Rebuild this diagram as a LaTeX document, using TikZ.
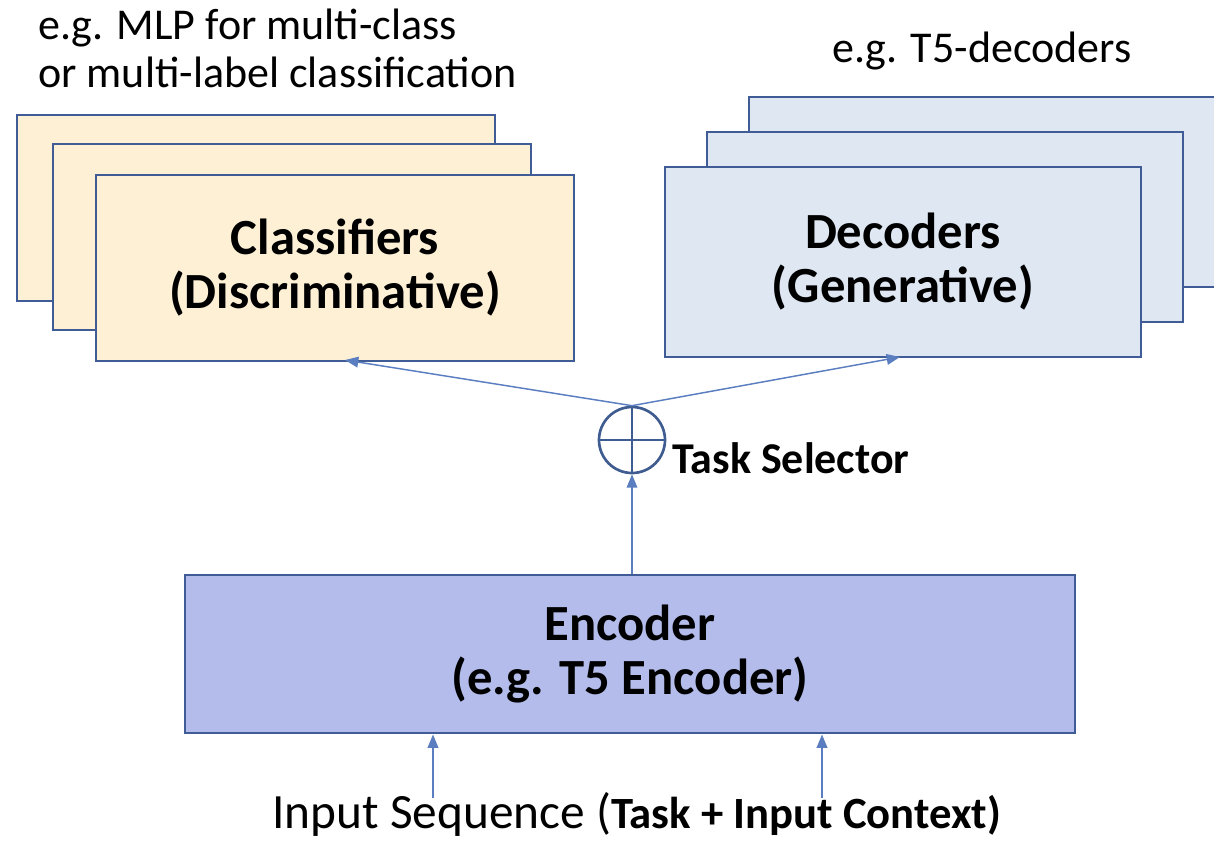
\documentclass[tikz,border=0pt]{standalone}
\usepackage{fontspec}
\setmainfont{Carlito}
\usetikzlibrary{arrows.meta}
\definecolor{bordc}{HTML}{405C96}
\definecolor{arrc}{HTML}{5A7EC0}
\definecolor{clsfill}{HTML}{FDF0D5}
\definecolor{decfill}{HTML}{DEE7F2}
\definecolor{encfill}{HTML}{B3BCEA}
\definecolor{circc}{HTML}{3E5C8F}
\tikzset{
  card/.style={draw=bordc, line width=2.2pt, rectangle, inner sep=0pt, align=center,
    font=\fontsize{38}{40.5}\selectfont\bfseries},
  clsbox/.style={card, fill=clsfill, minimum width=358.5pt, minimum height=139.5pt},
  decbox/.style={card, fill=decfill, minimum width=357pt, minimum height=142.5pt},
  encbox/.style={card, fill=encfill, minimum width=667.5pt, minimum height=118.5pt},
  conn/.style={draw=arrc, line width=1.1pt, -{Triangle[length=10pt,width=8pt]}},
  annot/.style={inner sep=0pt, font=\fontsize{33}{36}\selectfont},
}
\begin{document}
\begin{tikzpicture}[x={(0.75pt,0pt)}, y={(0pt,-0.75pt)}]
\useasboundingbox (0,0) rectangle (1214,844);
\clip (0,0) rectangle (1214,844);
% classifier stack
\node[clsbox] (c3) at (256,208) {};
\node[clsbox] (c2) at (292,237) {};
\node[clsbox] (c1) at (335,268) {Classifiers\\(Discriminative)};
% decoder stack
\node[decbox] (d3) at (987,192) {};
\node[decbox] (d2) at (945,227) {};
\node[decbox] (d1) at (903,262) {Decoders\\(Generative)};
% encoder
\node[encbox] (enc) at (630,654) {Encoder\\(e.g. T5 Encoder)};
% task selector
\node[circle, draw=circc, line width=2pt, minimum size=49.5pt, inner sep=0pt] (sel) at (632,440) {};
\draw[circc, line width=2pt] (sel.north) -- (sel.south) (sel.west) -- (sel.east);
\node[anchor=base west, inner sep=0pt, font=\fontsize{33}{36}\selectfont\bfseries] (sellab) at (672,473) {Task Selector};
% annotations
\node[annot, anchor=north west, align=left] (ann1) at (38,9) {e.g. MLP for multi-class\\or multi-label classification};
\node[annot, anchor=base west] (ann2) at (832,62) {e.g. T5-decoders};
\node[anchor=base west, inner sep=0pt, font=\fontsize{37}{40}\selectfont] (inp) at (272,828) {Input Sequence (\fontsize{33.5}{36}\selectfont\bfseries Task + Input Context)};
% connectors
\coordinate (ctarget) at (345,360);
\coordinate (dtarget) at (900,357);
\draw[conn] (sel.north) -- (ctarget);
\draw[conn] (sel.north) -- (dtarget);
\draw[conn] (enc.north -| sel.south) -- (sel.south);
\coordinate (in1) at (433,798);
\coordinate (in2) at (822,798);
\draw[conn] (in1) -- (in1 |- enc.south);
\draw[conn] (in2) -- (in2 |- enc.south);
\end{tikzpicture}
\end{document}
